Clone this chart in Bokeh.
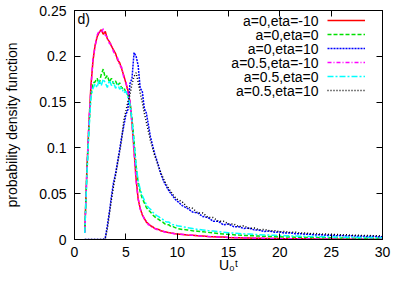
from bokeh.plotting import figure
from bokeh.models import (LinearAxis, FixedTicker, NumeralTickFormatter, Legend,
                          LegendItem, Label, Range1d, CustomJSTickFormatter)
from bokeh.core.properties import value
from bokeh.embed import file_html
from bokeh.resources import INLINE

# ---------------- data ----------------
x = [1.0, 1.2, 1.4, 1.6, 1.8, 2.0, 2.2, 2.4, 2.6, 2.8,
     3.0, 3.2, 3.4, 3.6, 3.8, 4.0, 4.2, 4.4, 4.6, 4.8,
     5.0, 5.2, 5.4, 5.6, 5.8, 6.0, 6.2, 6.4, 6.6, 6.8,
     7.0, 7.2, 7.4, 7.6, 7.8, 8.0, 8.2, 8.4, 8.6, 8.8,
     9.0, 9.2, 9.4, 9.6, 9.8, 10.0, 10.5, 11.0, 11.5, 12.0,
     12.5, 13.0, 13.5, 14.0, 14.5, 15.0, 15.5, 16.0, 16.5, 17.0,
     17.5, 18.0, 18.5, 19.0, 19.5, 20.0, 20.5, 21.0, 21.5, 22.0,
     22.5, 23.0, 23.5, 24.0, 24.5, 25.0, 25.5, 26.0, 26.5, 27.0,
     27.5, 28.0, 28.5, 29.0, 29.5, 30.0]

a0_eta_m10 = [.008, .075, .125, .168, .195, .212, .221, .226, .229, .224,
              .227, .219, .216, .211, .207, .203, .196, .193, .186, .179,
              .171, .163, .150, .128, .098, .066, .044, .034, .027, .023,
              .019, .017, .015, .014, .012, .0115, .011, .0095, .009, .0085,
              .008, .0075, .007, .0068, .0062, .006, .0055, .005, .0046, .0040,
              .0038, .0033, .0030, .0027, .0026, .0022, .0020, .0019, .0017, .0016,
              .0015, .0014, .0012, .0012, .0011, .0010, .0009, .0009, .0008, .0008,
              .0007, .0007, .0006, .0006, .0005, .0005, .0005, .0004, .0004, .0004,
              .0003, .0003, .0003, .0003, .0002, .0002]

a0_eta_0 = [.008, .070, .120, .158, .171, .172, .176, .170, .180, .186,
            .176, .179, .172, .176, .170, .173, .168, .171, .165, .166,
            .161, .158, .150, .132, .108, .080, .062, .052, .045, .040,
            .035, .032, .030, .027, .025, .023, .022, .020, .019, .017,
            .016, .016, .014, .014, .013, .012, .011, .0105, .0095, .009,
            .0085, .0078, .0072, .0066, .0060, .0056, .0052, .0048, .0045, .0042,
            .0040, .0037, .0035, .0033, .0031, .0030, .0028, .0027, .0025, .0024,
            .0023, .0022, .0021, .0020, .0019, .0018, .0017, .0017, .0016, .0015,
            .0015, .0014, .0014, .0013, .0013, .0012]

a0_eta_10 = [0, 0, 0, 0, 0, 0, 0, 0, 0, 0,
             .002, .015, .030, .047, .062, .072, .085, .098, .112, .124,
             .136, .142, .170, .176, .204, .200, .190, .165, .162, .143,
             .138, .125, .112, .103, .094, .087, .080, .072, .066, .061,
             .057, .053, .050, .047, .044, .042, .037, .034, .030, .029,
             .025, .024, .020, .020, .016, .017, .014, .0140, .0120, .0125,
             .0105, .0102, .0088, .0092, .0080, .0081, .0070, .0073, .0063, .0064,
             .0056, .0057, .0050, .0052, .0046, .0047, .0042, .0043, .0039, .0040,
             .0036, .0037, .0033, .0035, .0031, .0031]

a05_eta_m10 = [.007, .072, .128, .165, .197, .210, .223, .228, .226, .230,
               .223, .221, .214, .213, .205, .201, .198, .190, .188, .177,
               .173, .160, .152, .125, .095, .064, .045, .033, .028, .022,
               .020, .016, .0155, .013, .0125, .011, .0105, .0098, .009, .0082,
               .0078, .0074, .0072, .0066, .0063, .0058, .0056, .0049, .0046, .0041,
               .0036, .0034, .0029, .0028, .0024, .0023, .0021, .0018, .0018, .0015,
               .0015, .0013, .0013, .0011, .0011, .0010, .0009, .0008, .0008, .0007,
               .0007, .0006, .0006, .0005, .0005, .0005, .0004, .0004, .0004, .0003,
               .0003, .0003, .0003, .0002, .0002, .0002]

a05_eta_0 = [.007, .068, .118, .155, .165, .170, .166, .174, .168, .175,
             .171, .166, .174, .168, .172, .165, .170, .164, .166, .160,
             .162, .155, .148, .130, .106, .081, .064, .055, .048, .043,
             .038, .035, .033, .030, .028, .026, .025, .023, .022, .020,
             .019, .019, .017, .016, .016, .015, .014, .013, .012, .011,
             .0105, .0098, .0092, .0085, .0080, .0075, .0070, .0066, .0062, .0059,
             .0056, .0053, .0050, .0048, .0046, .0044, .0042, .0040, .0038, .0036,
             .0034, .0033, .0032, .0030, .0029, .0028, .0027, .0026, .0025, .0024,
             .0023, .0022, .0021, .0021, .0020, .0020]

a05_eta_10 = [0, 0, 0, 0, 0, 0, 0, 0, 0, 0,
              .001, .012, .028, .044, .058, .070, .083, .096, .110, .130,
              .140, .150, .158, .170, .178, .182, .172, .160, .150, .138,
              .128, .118, .108, .100, .092, .086, .079, .073, .068, .063,
              .059, .055, .052, .049, .046, .044, .041, .035, .034, .029,
              .029, .024, .024, .020, .020, .017, .017, .014, .015, .012,
              .0125, .0105, .0110, .0095, .0096, .0085, .0088, .0077, .0080, .0070,
              .0072, .0064, .0066, .0058, .0060, .0053, .0055, .0050, .0051, .0046,
              .0048, .0043, .0045, .0041, .0042, .0039]

series_labels = ["a=0,eta=-10", "a=0,eta=0", "a=0,eta=10",
                 "a=0.5,eta=-10", "a=0.5,eta=0", "a=0.5,eta=10"]
series_values = [a0_eta_m10, a0_eta_0, a0_eta_10, a05_eta_m10, a05_eta_0, a05_eta_10]
series_colors = ["#ff0000", "#00e000", "#0000ff", "#ff00ff", "#00ffff", "#000000"]
series_dashes = ["solid", "4 2", "2 1", "4 2 1 2", "6 2 2 2", "1 2"]

x_ticks = [0, 5, 10, 15, 20, 25, 30]
y_ticks = [0, 0.05, 0.1, 0.15, 0.2, 0.25]

FONT = "Liberation Sans"

# ---------------- figure ----------------
p = figure(width=399, height=275, output_backend="svg", toolbar_location=None,
           x_range=Range1d(0, 30), y_range=Range1d(0, 0.25),
           min_border_left=74, min_border_right=17, min_border_top=10,
           min_border_bottom=36)
p.xgrid.visible = False
p.ygrid.visible = False
p.outline_line_color = "black"
p.outline_line_alpha = 1
p.outline_line_width = 1
p.background_fill_color = "white"
p.border_fill_color = "white"


def style_axis(ax, ticks, show_labels):
    ax.ticker = FixedTicker(ticks=ticks)
    ax.major_tick_in = 6
    ax.major_tick_out = 0
    ax.minor_tick_line_color = None
    ax.axis_line_color = "black"
    ax.major_tick_line_color = "black"
    ax.major_label_text_font = FONT
    ax.major_label_text_color = "black"
    if show_labels:
        ax.major_label_text_font_size = "14px"
    else:
        ax.formatter = CustomJSTickFormatter(code="return ''")
        ax.major_label_text_font_size = "0px"
        ax.major_label_standoff = 0


xa = p.xaxis[0]
ya = p.yaxis[0]
style_axis(xa, x_ticks, True)
style_axis(ya, y_ticks, True)
xa.major_label_standoff = 7
ya.major_label_standoff = 8
ya.formatter = NumeralTickFormatter(format="0.[00]")
ya.axis_label = "probability density function"
ya.axis_label_text_font = FONT
ya.axis_label_text_font_size = "14px"
ya.axis_label_text_font_style = "normal"
ya.axis_label_text_color = "black"
ya.axis_label_standoff = 16

xa.axis_label = "U\u2080\u1d57"
xa.axis_label_text_font = FONT
xa.axis_label_text_font_size = "14px"
xa.axis_label_text_font_style = "normal"
xa.axis_label_text_color = "black"
xa.axis_label_standoff = -3

top_ax = LinearAxis()
style_axis(top_ax, x_ticks, False)
p.add_layout(top_ax, "above")
right_ax = LinearAxis()
style_axis(right_ax, y_ticks, False)
p.add_layout(right_ax, "right")

renderers = []
for vals, col, dash in zip(series_values, series_colors, series_dashes):
    r = p.line(x, vals, line_color=col, line_width=1.5, line_dash=dash)
    renderers.append(r)

# legend samples (glyphs on the right, texts drawn to their left)
legend = Legend(items=[LegendItem(label=value(""), renderers=[r]) for r in renderers],
                location=(253, 142), orientation="vertical",
                glyph_width=38, glyph_height=14, label_height=14, label_width=0,
                spacing=0, padding=0, margin=0, label_standoff=0,
                border_line_alpha=0, background_fill_alpha=0,
                label_text_font_size="12px")
p.add_layout(legend)

row_step = 14 / 916
for k, txt in enumerate(series_labels):
    p.add_layout(Label(x=23.77, y=0.2388 - k * row_step, text=txt,
                       text_align="right", text_baseline="middle",
                       text_font=FONT, text_font_size="14px", text_color="black"))

p.add_layout(Label(x=0.3, y=0.2495, text="d)", text_align="left", text_baseline="top",
                   text_font=FONT, text_font_size="14px", text_color="black"))

open("out.html", "w").write(file_html(p, INLINE))
